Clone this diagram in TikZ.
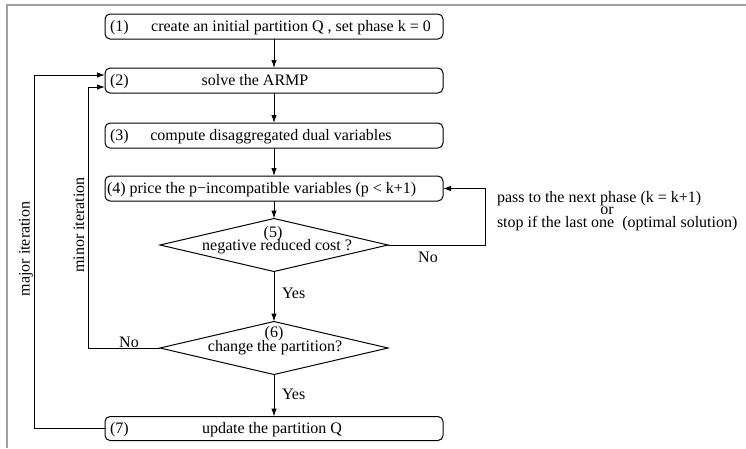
\documentclass[tikz,border=0pt]{standalone}
\usepackage{fontspec}
\setmainfont{Liberation Serif}
\usetikzlibrary{shapes.geometric,arrows.meta,calc}

\tikzset{
  txt/.style={font=\fontsize{16}{16}\selectfont, inner sep=0pt, outer sep=0pt},
  stepbox/.style={draw, line width=1pt, rounded corners=5pt, minimum width=338pt,
                  minimum height=25pt, inner sep=0pt, outer sep=0pt},
  test/.style={draw, diamond, line width=1pt, minimum width=228pt, minimum height=53pt,
               inner sep=0pt, outer sep=0pt},
  flow/.style={line width=1pt, -{Latex[length=8pt,width=5.5pt]}},
  plain/.style={line width=1pt}
}

\begin{document}
\begin{tikzpicture}[x=1pt, y=-1pt]
  \useasboundingbox (0,0) rectangle (746,448);

  % partial frame
  \draw[gray!75, line width=1.6pt] (746,5) -- (7,5) -- (7,448);

  % steps
  \node[stepbox] (b1) at (274,26.5) {};
  \node[stepbox] (b2) at (274,80.5) {};
  \node[stepbox] (b3) at (274,135.5) {};
  \node[stepbox] (b4) at (274,188.5) {};
  \node[test]    (d5) at (274,245) {};
  \node[test]    (d6) at (274,348) {};
  \node[stepbox, minimum height=24pt] (b7) at (274,428.5) {};

  % step texts
  \node[txt, anchor=base west] (n1) at (110,31.5) {(1)};
  \node[txt, anchor=base] (t1) at (291,31.5) {create an initial partition Q , set phase k = 0};
  \node[txt, anchor=base west] (n2) at (110,85.5) {(2)};
  \node[txt, anchor=base] (t2) at (255,85.5) {solve the ARMP};
  \node[txt, anchor=base west] (n3) at (110,140.5) {(3)};
  \node[txt, anchor=base] (t3) at (271,140.5) {compute disaggregated dual variables};
  \node[txt, anchor=base west] (t4) at (107,193.5) {(4) price the p−incompatible variables (p < k+1)};
  \node[txt, anchor=base] (n5) at (273,237.5) {(5)};
  \node[txt, anchor=base] (t5) at (277,250) {negative reduced cost ?};
  \node[txt, anchor=base] (n6) at (274,337.5) {(6)};
  \node[txt, anchor=base] (t6) at (275,351) {change the partition?};
  \node[txt, anchor=base west] (n7) at (110,433.5) {(7)};
  \node[txt, anchor=base] (t7) at (272,433.5) {update the partition Q};

  % main flow
  \draw[flow] (b1.south) -- (b2.north);
  \draw[flow] (b2.south) -- (b3.north);
  \draw[flow] (b3.south) -- (b4.north);
  \draw[flow] (b4.south) -- (d5.north);
  \draw[flow] (d5.south) -- (d6.north);
  \draw[flow] (d6.south) -- (b7.north);
  \node[txt, anchor=base west] (y5) at (282,298) {Yes};
  \node[txt, anchor=base west] (y6) at (282,399) {Yes};

  % next phase loop
  \draw[flow] (d5.east) -- ++(97,0) |- (b4.east);
  \node[txt, anchor=base] (no5) at (428,262) {No};
  \node[txt, anchor=base west] (r1) at (497,202) {pass to the next phase (k = k+1)};
  \node[txt, anchor=base] (r2) at (607,214.5) {or};
  \node[txt, anchor=base west] (r3) at (497,227) {stop if the last one~~(optimal solution)};

  % minor iteration loop
  \draw[flow] (d6.west) -- ++(-72,0) |- ($(b2.west)+(0,6.5)$);
  \node[txt, anchor=base] (no6) at (129,347) {No};
  \node[txt, rotate=90] (minor) at (79,225) {minor iteration};

  % major iteration loop
  \draw[flow] (b7.west) -- ++(-71,0) |- ($(b2.west)+(0,-5.5)$);
  \node[txt, rotate=90] (major) at (26,249) {major iteration};
\end{tikzpicture}
\end{document}
